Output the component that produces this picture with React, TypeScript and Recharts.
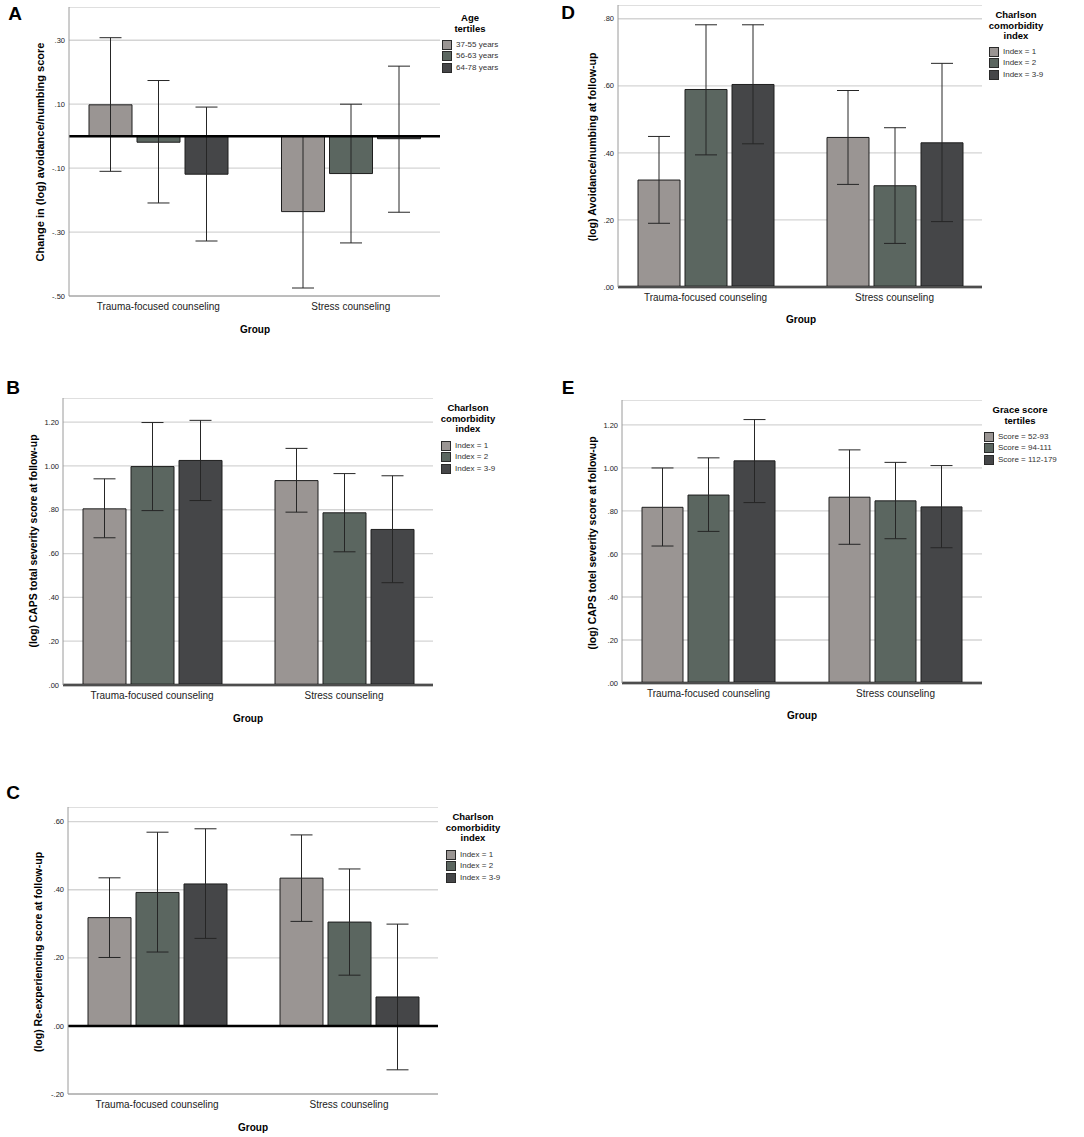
import React from 'react'
import { BarChart, Bar, XAxis, YAxis, CartesianGrid, ErrorBar, ReferenceLine } from 'recharts'

const GROUPS = ['Trauma-focused counseling', 'Stress counseling']
const AGE_TERTILES = ['37-55 years', '56-63 years', '64-78 years']
const CHARLSON = ['Index = 1', 'Index = 2', 'Index = 3-9']
const GRACE = ['Score = 52-93', 'Score = 94-111', 'Score = 112-179']

// rows = group, columns = legend series
const A_MEAN = [[0.098, -0.019, -0.119], [-0.236, -0.117, -0.008]]
const A_LOW = [[-0.11, -0.209, -0.328], [-0.475, -0.334, -0.238]]
const A_HIGH = [[0.308, 0.174, 0.091], [0.002, 0.1, 0.219]]
const A_TICKS = [-0.5, -0.3, -0.1, 0.1, 0.3]

const B_MEAN = [[0.804, 0.997, 1.025], [0.933, 0.786, 0.71]]
const B_LOW = [[0.672, 0.796, 0.842], [0.789, 0.608, 0.467]]
const B_HIGH = [[0.941, 1.198, 1.208], [1.08, 0.965, 0.955]]
const B_TICKS = [0, 0.2, 0.4, 0.6, 0.8, 1.0, 1.2]

const C_MEAN = [[0.318, 0.392, 0.417], [0.434, 0.305, 0.085]]
const C_LOW = [[0.201, 0.217, 0.257], [0.307, 0.149, -0.129]]
const C_HIGH = [[0.435, 0.569, 0.579], [0.561, 0.461, 0.299]]
const C_TICKS = [-0.2, 0, 0.2, 0.4, 0.6]

const D_MEAN = [[0.319, 0.589, 0.604], [0.446, 0.302, 0.43]]
const D_LOW = [[0.19, 0.394, 0.427], [0.306, 0.13, 0.195]]
const D_HIGH = [[0.449, 0.782, 0.782], [0.586, 0.475, 0.667]]
const D_TICKS = [0, 0.2, 0.4, 0.6, 0.8]

const E_MEAN = [[0.817, 0.874, 1.033], [0.864, 0.847, 0.819]]
const E_LOW = [[0.637, 0.705, 0.839], [0.645, 0.671, 0.629]]
const E_HIGH = [[1.0, 1.047, 1.225], [1.084, 1.026, 1.011]]
const E_TICKS = [0, 0.2, 0.4, 0.6, 0.8, 1.0, 1.2]

const COLORS = ['#9a9593', '#5b6660', '#454648']
const FONT = 'Arial, "Liberation Sans", sans-serif'

const fmt = (v: number) => v.toFixed(2).replace(/^(-?)0\./, '$1.')

function buildRows(mean: number[][], low: number[][], high: number[][]) {
  return GROUPS.map((g, gi) => {
    const row: any = { group: g }
    mean[gi].forEach((m, si) => {
      row['m' + si] = m
      row['e' + si] = [m - low[gi][si], high[gi][si] - m]
    })
    return row
  })
}

interface PanelCfg {
  letter: string
  rows: any[]
  series: string[]
  ticks: number[]
  domain: [number, number]
  yLabel: string
  yLabelSize: number
  legendTitle: string[]
  plot: { l: number; r: number; t: number; b: number }
  letterPos: [number, number]
  yLabelPos: [number, number]
  groupPos: [number, number]
  legend: { cx: number; titleY: number; swatchX: number; itemY: number }
}

const PANELS: PanelCfg[] = [
  {
    letter: 'A', rows: buildRows(A_MEAN, A_LOW, A_HIGH), series: AGE_TERTILES, ticks: A_TICKS,
    domain: [-0.5, 0.404], yLabel: 'Change in (log) avoidance/numbing score', yLabelSize: 11, legendTitle: ['Age', 'tertiles'],
    plot: { l: 69, r: 440, t: 7, b: 296 }, letterPos: [15, 14], yLabelPos: [40, 152], groupPos: [255, 329],
    legend: { cx: 470, titleY: 18, swatchX: 442, itemY: 45 },
  },
  {
    letter: 'B', rows: buildRows(B_MEAN, B_LOW, B_HIGH), series: CHARLSON, ticks: B_TICKS,
    domain: [0, 1.31], yLabel: '(log) CAPS total severity score at follow-up', yLabelSize: 10.4, legendTitle: ['Charlson', 'comorbidity', 'index'],
    plot: { l: 63, r: 433, t: 398, b: 685 }, letterPos: [13, 388], yLabelPos: [33, 541], groupPos: [248, 718],
    legend: { cx: 468, titleY: 408, swatchX: 441, itemY: 446 },
  },
  {
    letter: 'C', rows: buildRows(C_MEAN, C_LOW, C_HIGH), series: CHARLSON, ticks: C_TICKS,
    domain: [-0.2, 0.643], yLabel: '(log) Re-experiencing score at follow-up', yLabelSize: 10.5, legendTitle: ['Charlson', 'comorbidity', 'index'],
    plot: { l: 68, r: 438, t: 807, b: 1094 }, letterPos: [13, 793], yLabelPos: [38, 952], groupPos: [253, 1127],
    legend: { cx: 473, titleY: 817, swatchX: 446, itemY: 855 },
  },
  {
    letter: 'D', rows: buildRows(D_MEAN, D_LOW, D_HIGH), series: CHARLSON, ticks: D_TICKS,
    domain: [0, 0.841], yLabel: '(log) Avoidance/numbing at follow-up', yLabelSize: 10.6, legendTitle: ['Charlson', 'comorbidity', 'index'],
    plot: { l: 618, r: 982, t: 5, b: 287 }, letterPos: [568, 13], yLabelPos: [592, 147], groupPos: [801, 319],
    legend: { cx: 1016, titleY: 15, swatchX: 989, itemY: 52 },
  },
  {
    letter: 'E', rows: buildRows(E_MEAN, E_LOW, E_HIGH), series: GRACE, ticks: E_TICKS,
    domain: [0, 1.316], yLabel: '(log) CAPS totel severity score at follow-up', yLabelSize: 10.4, legendTitle: ['Grace score', 'tertiles'],
    plot: { l: 622, r: 982, t: 400, b: 683 }, letterPos: [568, 388], yLabelPos: [592, 543], groupPos: [802, 715],
    legend: { cx: 1020, titleY: 410, swatchX: 984, itemY: 437 },
  },
]

const Y_AXIS_W = 40
const X_AXIS_H = 30

const centered = (x: number, y: number, extra: React.CSSProperties = {}): React.CSSProperties => ({
  position: 'absolute', left: x, top: y, transform: 'translate(-50%, -50%)', whiteSpace: 'nowrap', fontFamily: FONT, ...extra,
})

function Panel({ cfg }: { cfg: PanelCfg }) {
  const { plot, legend } = cfg
  const width = plot.r - plot.l + Y_AXIS_W + 2
  const height = plot.b - plot.t + X_AXIS_H
  return (
    <>
      <div style={{ position: 'absolute', left: plot.l - Y_AXIS_W, top: plot.t }}>
        <BarChart width={width} height={height} data={cfg.rows}
          margin={{ top: 0, right: 2, bottom: 0, left: 0 }} barCategoryGap={27} barGap={5}>
          <CartesianGrid vertical={false} stroke="#d4d4d4" strokeWidth={1.3} />
          <XAxis dataKey="group" height={X_AXIS_H} tickSize={0} tickMargin={7} padding={{ left: -7, right: -7 }}
            axisLine={{ stroke: '#9a9a9a' }} tick={{ fontSize: 10, fill: '#222', fontFamily: FONT }} />
          <YAxis width={Y_AXIS_W} type="number" domain={cfg.domain} ticks={cfg.ticks} allowDataOverflow
            tickFormatter={fmt} tickLine={false} tickSize={0} tickMargin={4}
            axisLine={{ stroke: '#9a9a9a' }} tick={{ fontSize: 7.5, fill: '#222', fontFamily: FONT }} />
          {cfg.series.map((s, i) => (
            <Bar key={s} dataKey={'m' + i} name={s} fill={COLORS[i]} stroke="#1e1e1e" strokeWidth={1} isAnimationActive={false}>
              <ErrorBar dataKey={'e' + i} width={11} stroke="#262626" strokeWidth={1} isAnimationActive={false} />
            </Bar>
          ))}
          <ReferenceLine y={0} stroke="#000" strokeWidth={2.5} />
        </BarChart>
      </div>
      <div style={centered(cfg.letterPos[0], cfg.letterPos[1], { fontSize: 19, fontWeight: 'bold' })}>{cfg.letter}</div>
      <div style={centered(cfg.yLabelPos[0], cfg.yLabelPos[1], { fontSize: cfg.yLabelSize, fontWeight: 'bold', transform: 'translate(-50%, -50%) rotate(-90deg)' })}>
        {cfg.yLabel}
      </div>
      <div style={centered(cfg.groupPos[0], cfg.groupPos[1], { fontSize: 10, fontWeight: 'bold' })}>Group</div>
      {cfg.legendTitle.map((t, i) => (
        <div key={t} style={centered(legend.cx, legend.titleY + i * 10.5, { fontSize: 9.5, fontWeight: 'bold', lineHeight: '10px' })}>{t}</div>
      ))}
      {cfg.series.map((s, i) => (
        <div key={s} style={{ position: 'absolute', left: legend.swatchX, top: legend.itemY + i * 11.3 - 5, display: 'flex', alignItems: 'center', fontFamily: FONT, whiteSpace: 'nowrap' }}>
          <span style={{ width: 8, height: 8, background: COLORS[i], border: '1px solid #2a2a2a', display: 'inline-block' }} />
          <span style={{ fontSize: 8, color: '#333', marginLeft: 4, lineHeight: '10px' }}>{s}</span>
        </div>
      ))}
    </>
  )
}

export default function App() {
  return (
    <div style={{ position: 'absolute', left: 0, top: 0, width: 1084, height: 1137, background: '#fff' }}>
      {PANELS.map((p) => (
        <Panel key={p.letter} cfg={p} />
      ))}
    </div>
  )
}
